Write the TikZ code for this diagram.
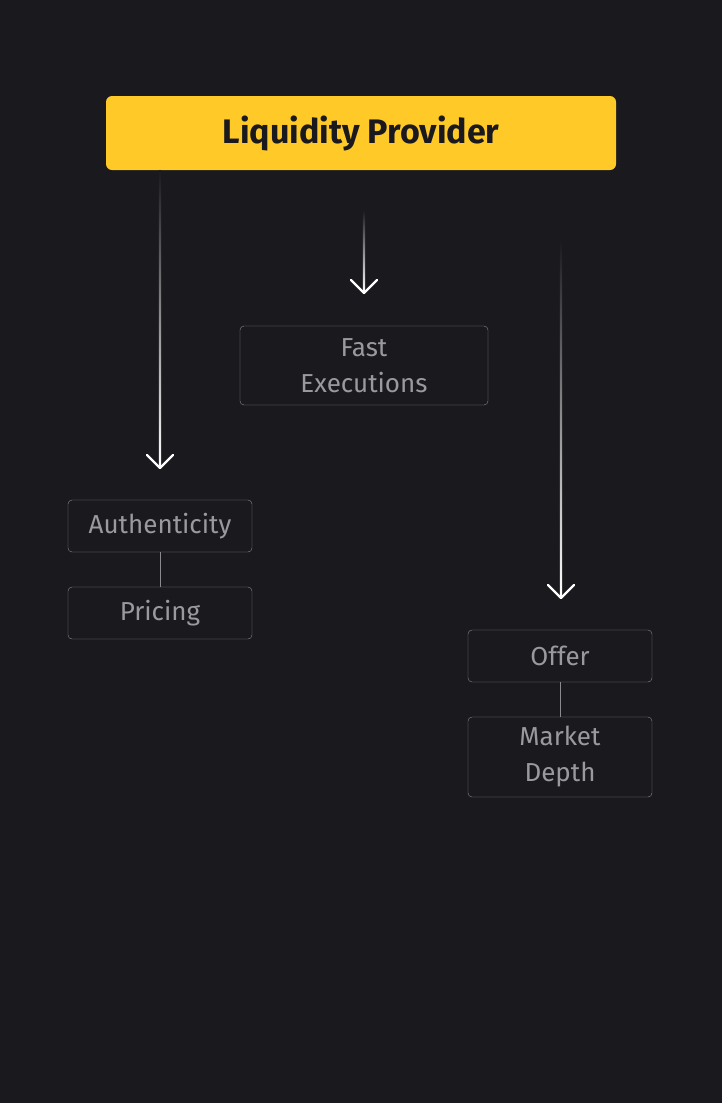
\documentclass[tikz,border=0pt]{standalone}
\usepackage{fontspec}
\setmainfont{Fira Sans}
\usetikzlibrary{positioning}
\definecolor{bg}{HTML}{1A191E}
\definecolor{gold}{HTML}{FFC928}
\definecolor{edge}{HTML}{8A8A8E}
\definecolor{txt}{HTML}{9A9A9E}
\tikzset{
  itembox/.style={draw=edge, rounded corners=4pt, text=txt, align=center,
    font=\fontsize{26}{36}\selectfont, inner sep=0pt},
  fadebar/.style={top color=bg, bottom color=white, draw=none},
  barb/.style={draw=white, line width=2.2pt, line cap=round, line join=round}
}
\begin{document}
\begin{tikzpicture}[x=1pt,y=-1pt]
    \fill[bg] (0,0) rectangle (722,1103);
    \useasboundingbox (0,0) rectangle (722,1103);

    \node[fill=gold, rounded corners=6pt, minimum width=510pt, minimum height=74pt,
      font=\fontsize{34}{40}\selectfont\bfseries, text=bg] (provider) at (361,133) {Liquidity Provider};

    \node[itembox, minimum width=248pt, minimum height=79pt] (fast) at (364,365.5) {Fast\\Executions};
    \node[itembox, minimum width=184pt, minimum height=52pt] (auth) at (160,526) {Authenticity};
    \node[itembox, minimum width=184pt, minimum height=52pt] (pricing) at (160,613) {Pricing};
    \node[itembox, minimum width=184pt, minimum height=52pt] (offer) at (560,656) {Offer};
    \node[itembox, minimum width=184pt, minimum height=80pt] (depth) at (560,757) {Market\\Depth};

    \draw[edge] (auth) -- (pricing);
    \draw[edge] (offer) -- (depth);

    % faded arrows
    \coordinate (tipA) at (160,468);
    \coordinate (tipB) at (364,293);
    \coordinate (tipC) at (561,598);
    \shade[fadebar] (158.9,170) rectangle (161.1,467);
    \shade[fadebar] (362.9,210) rectangle (365.1,292);
    \shade[fadebar] (559.9,240) rectangle (562.1,597);
    \foreach \t in {tipA,tipB,tipC}
      \draw[barb] ([shift={(-13pt,13pt)}]\t) -- (\t) -- ([shift={(13pt,13pt)}]\t);
\end{tikzpicture}
\end{document}
